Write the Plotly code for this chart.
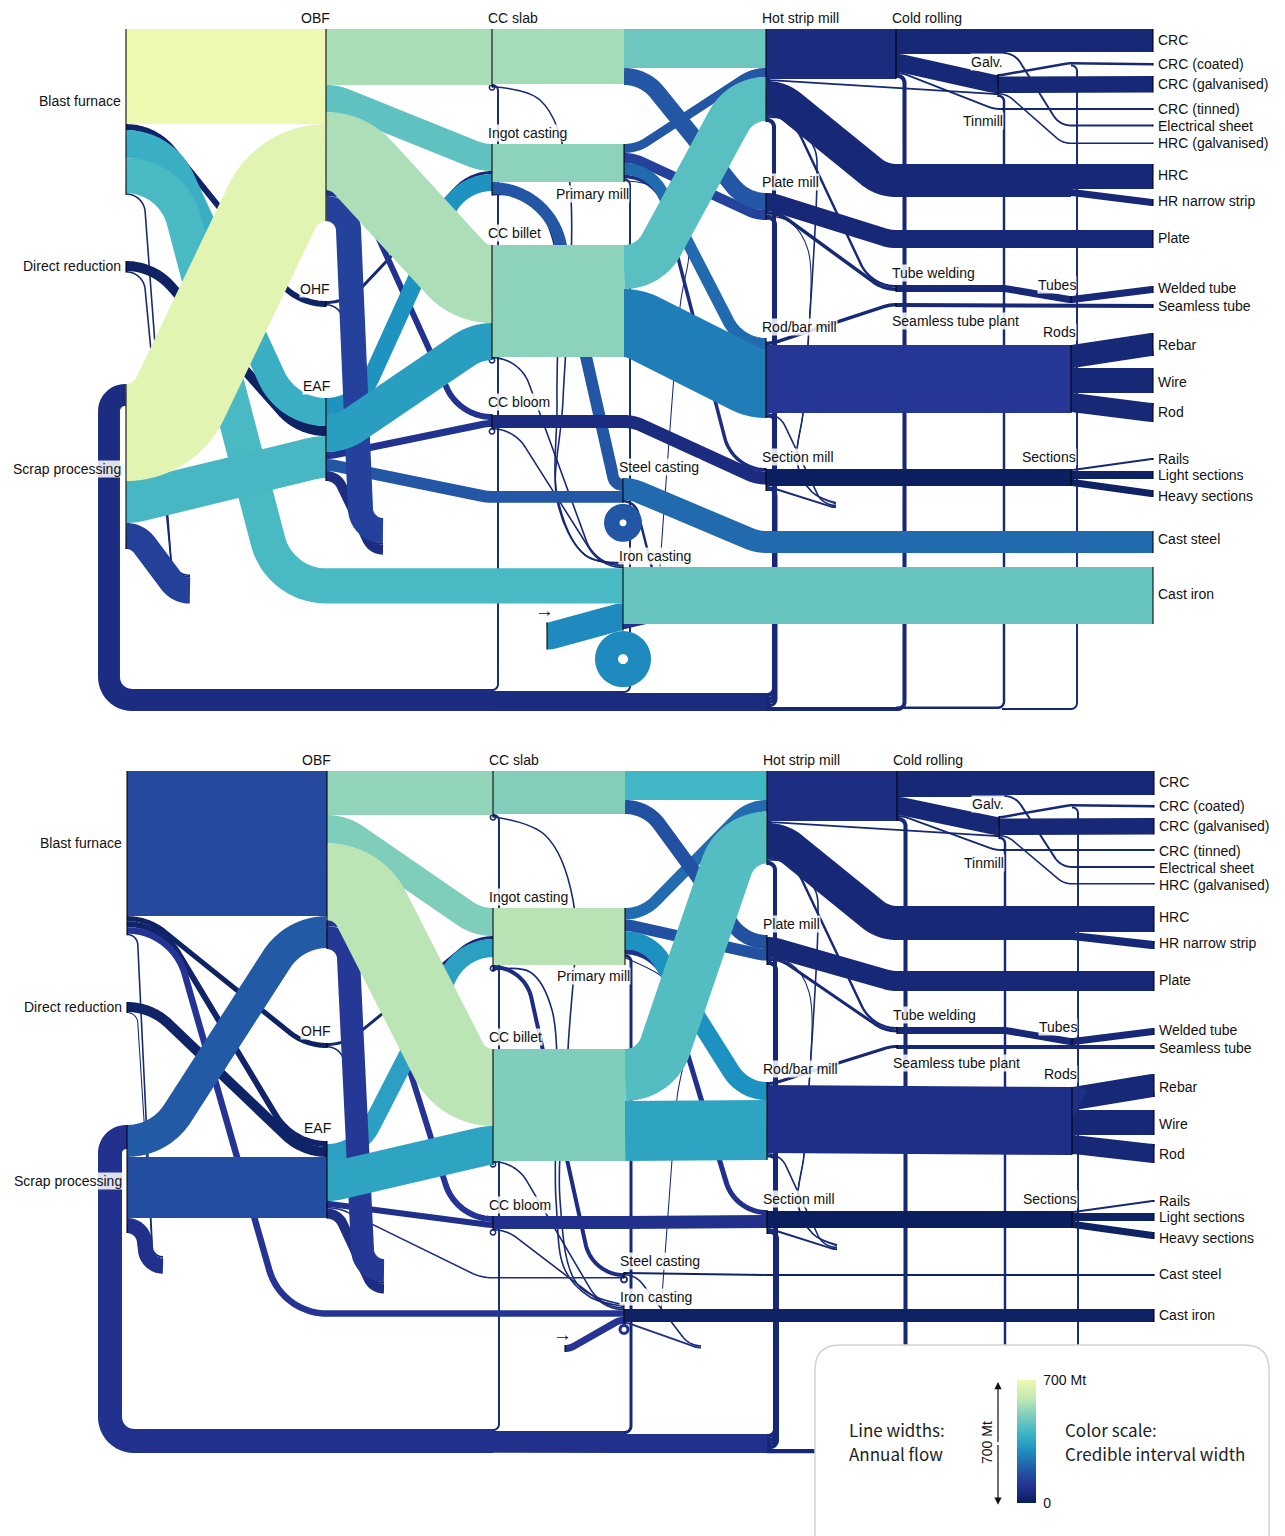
import math
import plotly.graph_objects as go

# ---------- data: annual flows (Mt) and credible-interval widths (Mt), one pair of panels ----------
flow_top = {
 "Slab>Slabs":314,"Slab>Slab":9,"Slab>T492":11,"Slab>Iron":9,
 "Ingot>Primary":217,"Ingot>Ingot":9,"Ingot>Steel":68,"Ingot>Iron":9,
 "Billet>Billets":638,"Billet>Billet":9,"Billet>Iron":9,
 "Bloom>Blooms":74,"Bloom>Bloom":9,"Bloom>Iron":9,
 "BF>OBF":542,"BF>OHF":34,"BF>EAF":160,"BF>Iron":200,"BF>Stub1":9,"DR>EAF":57,"DR>Stub1":9,
 "Scrap>OBF":553,"Scrap>EAF":239,"Scrap>Stub1":148,
 "OBF>Slab":319,"OBF>Ingot":154,"OBF>Billet":445,"OBF>Bloom":34,"OBF>Stub2":143,
 "OHF>Ingot":17,"OHF>Stub2":9,
 "EAF>Ingot":97,"EAF>Billet":211,"EAF>Bloom":40,"EAF>Steel":68,"EAF>Stub2":57,
 "Slabs>HSM":222,"Slabs>PM":97,
 "Primary>HSM":51,"Primary>PM":57,"Primary>RM":68,"Primary>SM":20,"Primary>T623":11,"Primary>Stub5":6,
 "Billets>HSM":251,"Billets>RM":388,"Blooms>SM":74,
 "Steel>CastS":125,"Steel>Stub3":14,"Steel>Steel":88,
 "Stub0>Iron":154,"Iron>CastI":325,"Iron>Stub3":29,"Iron>Iron":131,
 "HSM>CR":285,"CR>CRC":131,"CR>Elec":11,"CR>Galv":103,"HSM>Galv":11,"HSM>HRCs":188,"HSM>TW":14,"HSM>Stub4":9,"HSM>T766":23,
 "PM>PlateF":103,"PM>TW":20,"PM>Stub4":6,"PM>T766":23,
 "RM>SP":20,"RM>Rods":388,"RM>Stub4":9,"RM>T766":17,
 "SM>Sections":97,"SM>Stub4":11,"SM>T766":17,
 "CR>Tin":11,"CR>T766":23,"Tin>CRCt":11,
 "Galv>C71":14,"Galv>CRCg":94,"Galv>HRCg":9,"Galv>T896":14,"C71>CRCc":14,"C71>T1004":11,
 "HRCs>HRC":143,"HRCs>Narrow":40,
 "TW>Tubes":40,"Tubes>Welded":40,"SP>Seamless":23,
 "Rods>Rebar":131,"Rods>Wire":143,"Rods>RodF":108,
 "Sections>Rails":11,"Sections>Light":46,"Sections>Heavy":40,
 "T766>T623":103,"T623>T492":114,"T492>Scrap":125,
}
flow_bottom = dict(flow_top)
flow_bottom.update({
 "BF>OBF":827,"BF>OHF":29,"BF>EAF":34,"BF>Iron":37,"DR>Stub1":6,
 "Scrap>OBF":182,"Scrap>EAF":348,"Scrap>Stub1":86,
 "OBF>Slab":251,"OBF>Ingot":160,"OBF>Billet":439,"OBF>Stub2":131,
 "EAF>Ingot":103,"EAF>Billet":222,"EAF>Bloom":34,"EAF>Steel":9,"EAF>Stub2":57,
 "Slab>Slabs":245,"Ingot>Primary":325,"Ingot>Steel":23,
 "Slabs>HSM":165,"Slabs>PM":80,
 "Primary>HSM":66,"Primary>PM":66,"Primary>RM":103,"Primary>SM":29,"Primary>T623":17,
 "Billets>HSM":296,"Billets>RM":342,
 "Steel>CastS":11,"Steel>Stub3":9,"Steel>Steel":11,
 "Stub0>Iron":40,"Iron>CastI":74,"Iron>Stub3":11,"Iron>Iron":17,
 "CR>CRC":137,"HSM>HRCs":194,"PM>PlateF":114,"PM>TW":17,
 "HRCs>HRC":148,"HRCs>Narrow":46,"RM>SP":17,"SM>T766":23,
 "T766>T623":108,"T623>T492":125,"T492>Scrap":137,
})
ci_top = {k:50 for k in flow_top}
ci_top.update({
 "BF>OBF":700,"BF>OHF":25,"BF>EAF":380,"BF>Iron":413,"DR>EAF":20,
 "Scrap>OBF":670,"Scrap>EAF":410,"Scrap>Stub1":130,
 "OBF>Slab":560,"OBF>Ingot":448,"OBF>Billet":562,"OBF>Bloom":91,"OBF>Stub2":133,
 "EAF>Ingot":305,"EAF>Billet":336,"EAF>Bloom":91,"EAF>Steel":180,"EAF>Stub2":70,
 "Slab>Slabs":552,"Ingot>Primary":519,"Ingot>Steel":180,"Billet>Billets":519,"Bloom>Blooms":65,
 "Slabs>HSM":472,"Slabs>PM":180,"Primary>HSM":180,"Primary>PM":133,"Primary>RM":224,"Primary>SM":70,
 "Billets>HSM":440,"Billets>RM":261,"Blooms>SM":65,
 "Steel>CastS":224,"Steel>Steel":180,"Stub0>Iron":287,"Iron>CastI":462,"Iron>Stub3":91,"Iron>Iron":287,
 "HSM>CR":65,"RM>Rods":105,"SM>Sections":15,"Sections>Light":20,"Sections>Heavy":20,
 "T766>T623":65,"T623>T492":65,"T492>Scrap":69,
})
ci_bottom = {k:50 for k in flow_top}
ci_bottom.update({
 "BF>OBF":150,"BF>OHF":20,"BF>EAF":30,"BF>Iron":100,"DR>EAF":25,
 "Scrap>OBF":190,"Scrap>EAF":160,"Scrap>Stub1":85,
 "OBF>Slab":525,"OBF>Ingot":500,"OBF>Billet":585,"OBF>Bloom":100,"OBF>Stub2":110,
 "EAF>Ingot":340,"EAF>Billet":350,"EAF>Bloom":85,"EAF>Steel":70,"EAF>Stub2":70,
 "Slab>Slabs":505,"Ingot>Primary":580,"Ingot>Steel":70,"Billet>Billets":500,"Bloom>Blooms":85,
 "Slabs>HSM":400,"Slabs>PM":170,"Primary>HSM":225,"Primary>PM":170,"Primary>RM":300,"Primary>SM":85,
 "Billets>HSM":430,"Billets>RM":350,"Blooms>SM":85,
 "Steel>CastS":25,"Stub0>Iron":100,"Iron>CastI":20,"Iron>Stub3":85,"Iron>Iron":90,
 "HSM>CR":70,"RM>Rods":80,"SM>Sections":10,"Sections>Light":20,"Sections>Heavy":20,
 "T766>T623":85,"T623>T492":85,"T492>Scrap":88,
})

node_labels = {
 "BF":"Blast furnace","DR":"Direct reduction","Scrap":"Scrap processing","OBF":"OBF","OHF":"OHF","EAF":"EAF",
 "Slab":"CC slab","Ingot":"Ingot casting","Billet":"CC billet","Bloom":"CC bloom","Primary":"Primary mill",
 "Steel":"Steel casting","Iron":"Iron casting","HSM":"Hot strip mill","PM":"Plate mill","RM":"Rod/bar mill",
 "SM":"Section mill","CR":"Cold rolling","TW":"Tube welding","SP":"Seamless tube plant","Galv":"Galv.",
 "Tin":"Tinmill","Tubes":"Tubes","Rods":"Rods","Sections":"Sections","CRC":"CRC","CRCc":"CRC (coated)",
 "CRCg":"CRC (galvanised)","CRCt":"CRC (tinned)","Elec":"Electrical sheet","HRCg":"HRC (galvanised)","HRC":"HRC",
 "Narrow":"HR narrow strip","PlateF":"Plate","Welded":"Welded tube","Seamless":"Seamless tube","Rebar":"Rebar",
 "Wire":"Wire","RodF":"Rod","Rails":"Rails","Light":"Light sections","Heavy":"Heavy sections",
 "CastS":"Cast steel","CastI":"Cast iron",
}
legend_flow_mt = 700
color_stops = ["#081d58","#253494","#225ea8","#1d91c0","#41b6c4","#7fcdbb","#c7e9b4","#edf8b1"]

# ---------- layout of the diagram (pixel scale of the axes) ----------
MT_PER_PX = 5.7
# node: x, in-stack top, out-stack top (upper panel), in-stack top, out-stack top (lower panel)
node_pos = {
 "BF":(126,29,29,771,771),"DR":(126,261,261,1002,1002),"Scrap":(126,384,384,1125,1125),
 "OBF":(326,29,29,771,771),"OHF":(326,301,301,1043,1043),"EAF":(326,398,398,1141,1144),
 "Slab":(492,29,29,771,771),"Ingot":(492,144,144,908,908),"Billet":(492,245,245,1049,1049),"Bloom":(492,414,415,1216,1216),
 "Slabs":(624,29,29,771,771),"Primary":(624,144,144,908,908),"Billets":(624,245,245,1049,1049),"Blooms":(624,415,415,1216,1216),
 "Steel":(623,479,478,1273,1272),"Iron":(623,562,567,1304,1309),
 "HSM":(766,29,29,771,771),"PM":(766,193,193,935,937),"RM":(766,338,341.5,1082,1082),"SM":(766,468,469,1210,1211),
 "CR":(896,29,29,771,771),"TW":(896,285,285,1027,1027),"SP":(896,303,303,1045,1045),
 "Galv":(998,75,74,817,816),"Tin":(1003,108,108,849,849),"HRCs":(1071,164,164,906,906),"C71":(1071,62,62,804,804),
 "Rods":(1071,345,345,1087,1087),"Tubes":(1071,296,296,1038,1038),"Sections":(1071,469,469,1211,1211),
 "CRC":(1153,29,0,771,0),"CRCc":(1153,63,0,805,0),"CRCg":(1153,76,0,818,0),"CRCt":(1153,108,0,849,0),
 "Elec":(1153,124.5,0,866,0),"HRCg":(1153,142.5,0,883,0),"HRC":(1153,164,0,906,0),"Narrow":(1153,199,0,941,0),
 "PlateF":(1153,230,0,971,0),"Welded":(1153,286,0,1028,0),"Seamless":(1153,304,0,1045,0),"Rebar":(1153,333,0,1074,0),
 "Wire":(1153,368,0,1110,0),"RodF":(1153,403,0,1144,0),"Rails":(1153,458,0,1200,0),"Light":(1153,471,0,1213,0),
 "Heavy":(1153,490,0,1232,0),"CastS":(1153,531,0,1274,0),"CastI":(1153,567,0,1309,0),
 "Stub0":(547,0,622.5,0,1345),"Stub1":(190,574.5,0,1256,0),"Stub2":(383,518,0,1259,0),"Stub3":(675,610,0,1345,0),
 "Stub4":(836,502,0,1244,0),"Stub5":(660,566,0,1309,0),
 "T766":(766,693,693,1434,1434),"T623":(623,691,691,1431,1431),"T492":(492,689,689,1429,1429),
 "T896":(896,706.5,0,1448,0),"T1004":(1002,708,0,1450,0),
}
node_x_bottom = {"Stub0":565,"Stub1":163,"Stub3":701}
hidden = {"Slabs","Billets","Blooms","HRCs","C71","T766","T623","T492","T896","T1004","Stub1","Stub2","Stub3","Stub4","Stub5"}

bends = {"BF>Iron":(None,326),"EAF>Steel":(None,492),"CR>Elec":(1003,1071),"HSM>HRCs":(None,896),"PM>PlateF":(None,896),
         "Steel>CastS":(None,766),"Galv>HRCg":(None,1071),"TW>Tubes":(1003,None),"CR>Tin":(None,1000)}
radii_top = {"Ingot>Steel":(70,10)}
radii_bottom = {}
lanes = {"Slab>T492":498,"Primary>T623":630,"HSM>T766":774,"PM>T766":775,"RM>T766":775,"SM>T766":776,"CR>T766":904.5,
         "Galv>T896":1004,"C71>T1004":1077,"T492>Scrap":109}
routes_top = {
 "Slab>Iron":[(540,100),(568,170),(563,400),(557,500),(585,555)],
 "Ingot>Iron":[(530,200),(553,240),(557,400),(558,500),(585,555)],
 "HSM>Stub4":[(795,122),(815,150),(817,175),(808,345),(803,413),(797,462),(812,492)],
 "PM>Stub4":[(790,222),(808,250),(808,345),(803,413),(797,462),(812,492)],
 "Primary>Stub5":[(660,190),(688,243),(680,307)],
}
routes_bottom = {
 "Slab>Iron":[(545,835),(573,900),(568,1050),(560,1200),(578,1285)],
 "Ingot>Iron":[(530,972),(552,1010),(556,1200),(565,1270),(590,1297)],
 "HSM>Stub4":[(796,864),(816,892),(818,917),(809,1087),(804,1155),(798,1204),(813,1234)],
 "PM>Stub4":[(791,964),(809,992),(809,1087),(804,1155),(798,1204),(813,1234)],
 "Primary>Stub5":[(660,975),(690,1000),(677,1098),(672,1160)],
}
# self-loop: hole radius and extra drop (upper, lower panel)
loop_hole = {"Slab":(1.8,1.8),"Ingot":(1.8,1.8),"Billet":(1.8,1.8),"Bloom":(1.8,1.8),"Steel":(3.5,2),"Iron":(5,2.5)}
loop_drop = {"Steel":(1.5,0),"Iron":(2,0)}

# label: x, y, anchor in the upper panel; lower panel y override
labels = {
 "BF":(121,101,"right"),"DR":(121,266,"right"),"Scrap":(121,469,"right"),"OBF":(330,18,"right"),"OHF":(330,289,"right"),
 "EAF":(330,386,"right"),"Slab":(487,18,"left"),"Ingot":(487,133,"left"),"Billet":(487,233,"left"),"Bloom":(487,402,"left"),
 "Primary":(629,194,"right"),"Steel":(618,467,"left"),"Iron":(618,556,"left"),"HSM":(761,18,"left"),"PM":(761,182,"left"),
 "RM":(761,327,"left"),"SM":(761,457,"left"),"CR":(891,18,"left"),"TW":(891,273,"left"),"SP":(891,321,"left"),
 "Galv":(1003,62,"right"),"Tin":(1003,121,"right"),"Tubes":(1076,285,"right"),"Rods":(1076,332,"right"),"Sections":(1076,457,"right"),
 "CRC":(1157,40,"left"),"CRCc":(1157,64,"left"),"CRCg":(1157,84,"left"),"CRCt":(1157,109,"left"),"Elec":(1157,126,"left"),
 "HRCg":(1157,143,"left"),"HRC":(1157,175,"left"),"Narrow":(1157,201,"left"),"PlateF":(1157,238,"left"),"Welded":(1157,288,"left"),
 "Seamless":(1157,306,"left"),"Rebar":(1157,345,"left"),"Wire":(1157,382,"left"),"RodF":(1157,412,"left"),"Rails":(1157,459,"left"),
 "Light":(1157,475,"left"),"Heavy":(1157,496,"left"),"CastS":(1157,539,"left"),"CastI":(1157,594,"left"),
}
label_y_bottom = {"Ingot":897,"Billet":1037,"Bloom":1205,"Primary":976,"Steel":1261,"Iron":1297,"CastS":1274,"CastI":1315,"DR":1007,
                  "Scrap":1181,"EAF":1128,"PM":924}

# ---------- helpers ----------
def colour(ci):
    t = max(0, min(1, ci/700))*(len(color_stops)-1)
    i = min(int(t), len(color_stops)-2); f = t-i
    a = color_stops[i]; b = color_stops[i+1]
    ca = [int(a[j:j+2],16) for j in (1,3,5)]; cb = [int(b[j:j+2],16) for j in (1,3,5)]
    return "rgb(%d,%d,%d)" % tuple(round(p+(q-p)*f) for p,q in zip(ca,cb))

def s_curve(x0,y0,x1,y1,w,radii=None):
    if abs(y1-y0) < 1.5 or x1 <= x0:
        return [x0,x1],[y0,y1]
    sign = 1 if y1>y0 else -1
    dx, dy = x1-x0, abs(y1-y0)
    if radii:
        r1, r2 = radii
    else:
        r1 = r2 = max(w/2+10, 0.3*dx)
    while True:
        cx, cy = dx, dy-r1-r2
        d = math.hypot(cx,cy)
        if d > r1+r2+0.01:
            break
        r1 *= 0.9; r2 *= 0.9
    th = math.atan2(cy,cx)+math.asin((r1+r2)/d)
    xs, ys = [], []
    n = 40
    for i in range(n+1):
        a = th*i/n
        xs.append(x0+r1*math.sin(a)); ys.append(y0+sign*r1*(1-math.cos(a)))
    for i in range(n+1):
        a = th*(1-i/n)
        xs.append(x0+dx-r2*math.sin(a)); ys.append(y0+sign*(dy-r2+r2*math.cos(a)))
    return xs, ys

def rounded(points, r):
    xs, ys = [points[0][0]], [points[0][1]]
    for (ax,ay),(bx,by),(cx,cy) in zip(points, points[1:], points[2:]):
        la = math.hypot(bx-ax,by-ay); lc = math.hypot(cx-bx,cy-by)
        rr = min(r, la*0.95, lc*0.95)
        p = (bx+(ax-bx)*rr/la, by+(ay-by)*rr/la); q = (bx+(cx-bx)*rr/lc, by+(cy-by)*rr/lc)
        for i in range(13):
            t = i/12
            s = math.sin(t*math.pi/2); c = math.cos(t*math.pi/2)
            xs.append(bx+(p[0]-bx)*(1-s)+(q[0]-bx)*(1-c)); ys.append(by+(p[1]-by)*(1-s)+(q[1]-by)*(1-c))
    xs.append(points[-1][0]); ys.append(points[-1][1])
    return xs, ys

def dedupe(xs, ys):
    ox, oy = [xs[0]], [ys[0]]
    for x,y in zip(xs[1:], ys[1:]):
        if abs(x-ox[-1])+abs(y-oy[-1]) > 1e-3:
            ox.append(x); oy.append(y)
    return ox, oy

fig = go.Figure()
annotations = []

def panel(flows, cis, idx, routes, radii, xshift):
    in_stack, out_stack, extent = {}, {}, {}
    def nx(n):
        if idx==1 and n in node_x_bottom: return node_x_bottom[n]
        return node_pos[n][0]+xshift
    for n,p in node_pos.items():
        in_stack[n] = p[1+2*idx]; out_stack[n] = p[2+2*idx]
    draws = []
    for key in flow_top:
        src, dst = key.split(">")
        w = flows[key]/MT_PER_PX
        if src == dst:
            hole = loop_hole[src][idx]
            rc = hole+w/2; cy = out_stack[src]+w+hole+loop_drop.get(src,(0,0))[idx]; cx = nx(src)
            xs = [cx+rc*math.cos(2*math.pi*i/72) for i in range(76)]
            ys = [cy+rc*math.sin(2*math.pi*i/72) for i in range(76)]
            draws.append((w,xs,ys,colour(cis[key]),"linear")); continue
        sy0 = out_stack[src]; sy = sy0+w/2; out_stack[src] += w
        ty0 = in_stack[dst]; ty = ty0+w/2; in_stack[dst] += w
        x0, x1 = nx(src), nx(dst)
        for n,a,b in ((src,sy0,sy0+w),(dst,ty0,ty0+w)):
            lo,hi = extent.get(n,(a,b)); extent[n]=(min(lo,a),max(hi,b))
        shape = "linear"
        if key in lanes:
            lx = lanes[key]+xshift
            xs, ys = rounded([(x0,sy),(lx,sy),(lx,ty),(x1,ty)], w/2+(12 if w>10 else 5))
        elif key in routes:
            pts = [(x0,sy)]+routes[key]+[(x1,ty)]
            xs, ys = [p[0] for p in pts],[p[1] for p in pts]; shape = "spline"
        else:
            xa, xb = bends.get(key,(None,None))
            xa = x0 if xa is None else xa+xshift
            xb = x1 if xb is None else xb+xshift
            xs, ys = s_curve(xa,sy,xb,ty,w,radii.get(key))
            xs, ys = [x0]+list(xs)+[x1], [sy]+list(ys)+[ty]
        xs, ys = dedupe(xs, ys)
        draws.append((w,xs,ys,colour(cis[key]),shape))
    for w,xs,ys,col,shape in sorted(draws,key=lambda d:d[0]):
        fig.add_trace(go.Scatter(x=xs,y=ys,mode="lines",hoverinfo="skip",showlegend=False,cliponaxis=False,
                                 line=dict(color=col,width=w,shape=shape,simplify=False)))
    for n,(lo,hi) in extent.items():
        if n in hidden: continue
        x = nx(n)
        fig.add_trace(go.Scatter(x=[x,x],y=[lo,hi],mode="lines",hoverinfo="skip",showlegend=False,
                                 line=dict(color="rgba(0,0,0,0.75)",width=1.4)))
    for n,(x,y,anchor) in labels.items():
        yy = y if idx==0 else label_y_bottom.get(n, y+742)
        nudge = 1 if anchor=="right" else -0.5
        annotations.append(dict(x=x+xshift+nudge,y=yy,xref="x",yref="y",text=node_labels[n],showarrow=False,xanchor=anchor,
                                yanchor="middle",font=dict(family="Liberation Sans",size=14,color="#111"),
                                bgcolor="rgba(255,255,255,0.85)",borderpad=0))
    ax, ay = (544,610) if idx==0 else (562,1334)
    annotations.append(dict(x=ax,y=ay,xref="x",yref="y",text="→",showarrow=False,font=dict(family="Liberation Sans",size=19,color="#111")))

panel(flow_top, ci_top, 0, routes_top, radii_top, 0)
panel(flow_bottom, ci_bottom, 1, routes_bottom, radii_bottom, 1)

# ---------- legend ----------
bar_len = legend_flow_mt/MT_PER_PX
bar_top, bar_x = 1380.5, 1017
fig.add_trace(go.Scatter(x=[bar_x],y=[bar_top],mode="markers",hoverinfo="skip",showlegend=False,
    marker=dict(size=1,opacity=0,color=[0],cmin=0,cmax=legend_flow_mt,
        colorscale=[[i/(len(color_stops)-1),c] for i,c in enumerate(color_stops)],showscale=True,
        colorbar=dict(x=bar_x/1285,xanchor="left",y=1-(bar_top+bar_len/2)/1536,yanchor="middle",len=bar_len,lenmode="pixels",
                      thickness=19,thicknessmode="pixels",xpad=0,ypad=0,outlinewidth=0,borderwidth=0,
                      ticks="outside",ticklen=5,tickcolor="rgba(0,0,0,0)",
                      tickvals=[0,legend_flow_mt],ticktext=["0","700 Mt"],tickfont=dict(family="Liberation Sans",size=14,color="#111")))))
text_font = dict(family="Noto Sans CJK SC",size=17,color="#222")
for x,y,t in [(847,1429,"Line widths:"),(847,1453,"Annual flow"),(1063,1429,"Color scale:"),(1063,1453,"Credible interval width")]:
    annotations.append(dict(x=x,y=y,xref="x",yref="y",text=t,showarrow=False,xanchor="left",yanchor="middle",font=text_font))
annotations.append(dict(x=987,y=1443,xref="x",yref="y",text="700 Mt",showarrow=False,textangle=-90,
                        font=dict(family="Liberation Sans",size=14,color="#111")))
arrow_top, arrow_bot = 1382, 1382+bar_len
mid = (arrow_top+arrow_bot)/2
for end in (arrow_top, arrow_bot):
    annotations.append(dict(x=998,y=end,xref="x",yref="y",ax=998,ay=mid,axref="x",ayref="y",text="",showarrow=True,
                            arrowhead=2,arrowsize=1.2,arrowwidth=1.2,arrowcolor="#111"))

fig.update_layout(
    width=1285,height=1536,autosize=False,margin=dict(l=0,r=0,t=0,b=0),paper_bgcolor="white",plot_bgcolor="white",
    xaxis=dict(range=[0,1285],visible=False,fixedrange=True),
    yaxis=dict(range=[1536,0],visible=False,fixedrange=True),
    annotations=annotations,
    shapes=[dict(type="path",xref="x",yref="y",layer="above",fillcolor="white",line=dict(color="#d2d2d2",width=1.5),
                 path="M 840 1345 L 1244 1345 Q 1269 1345 1269 1370 L 1269 1560 Q 1269 1585 1244 1585 L 840 1585 Q 815 1585 815 1560 L 815 1370 Q 815 1345 840 1345 Z")],
)
fig.write_html("out.html", config={"displayModeBar":False}, post_script="document.body.style.margin='0';")
